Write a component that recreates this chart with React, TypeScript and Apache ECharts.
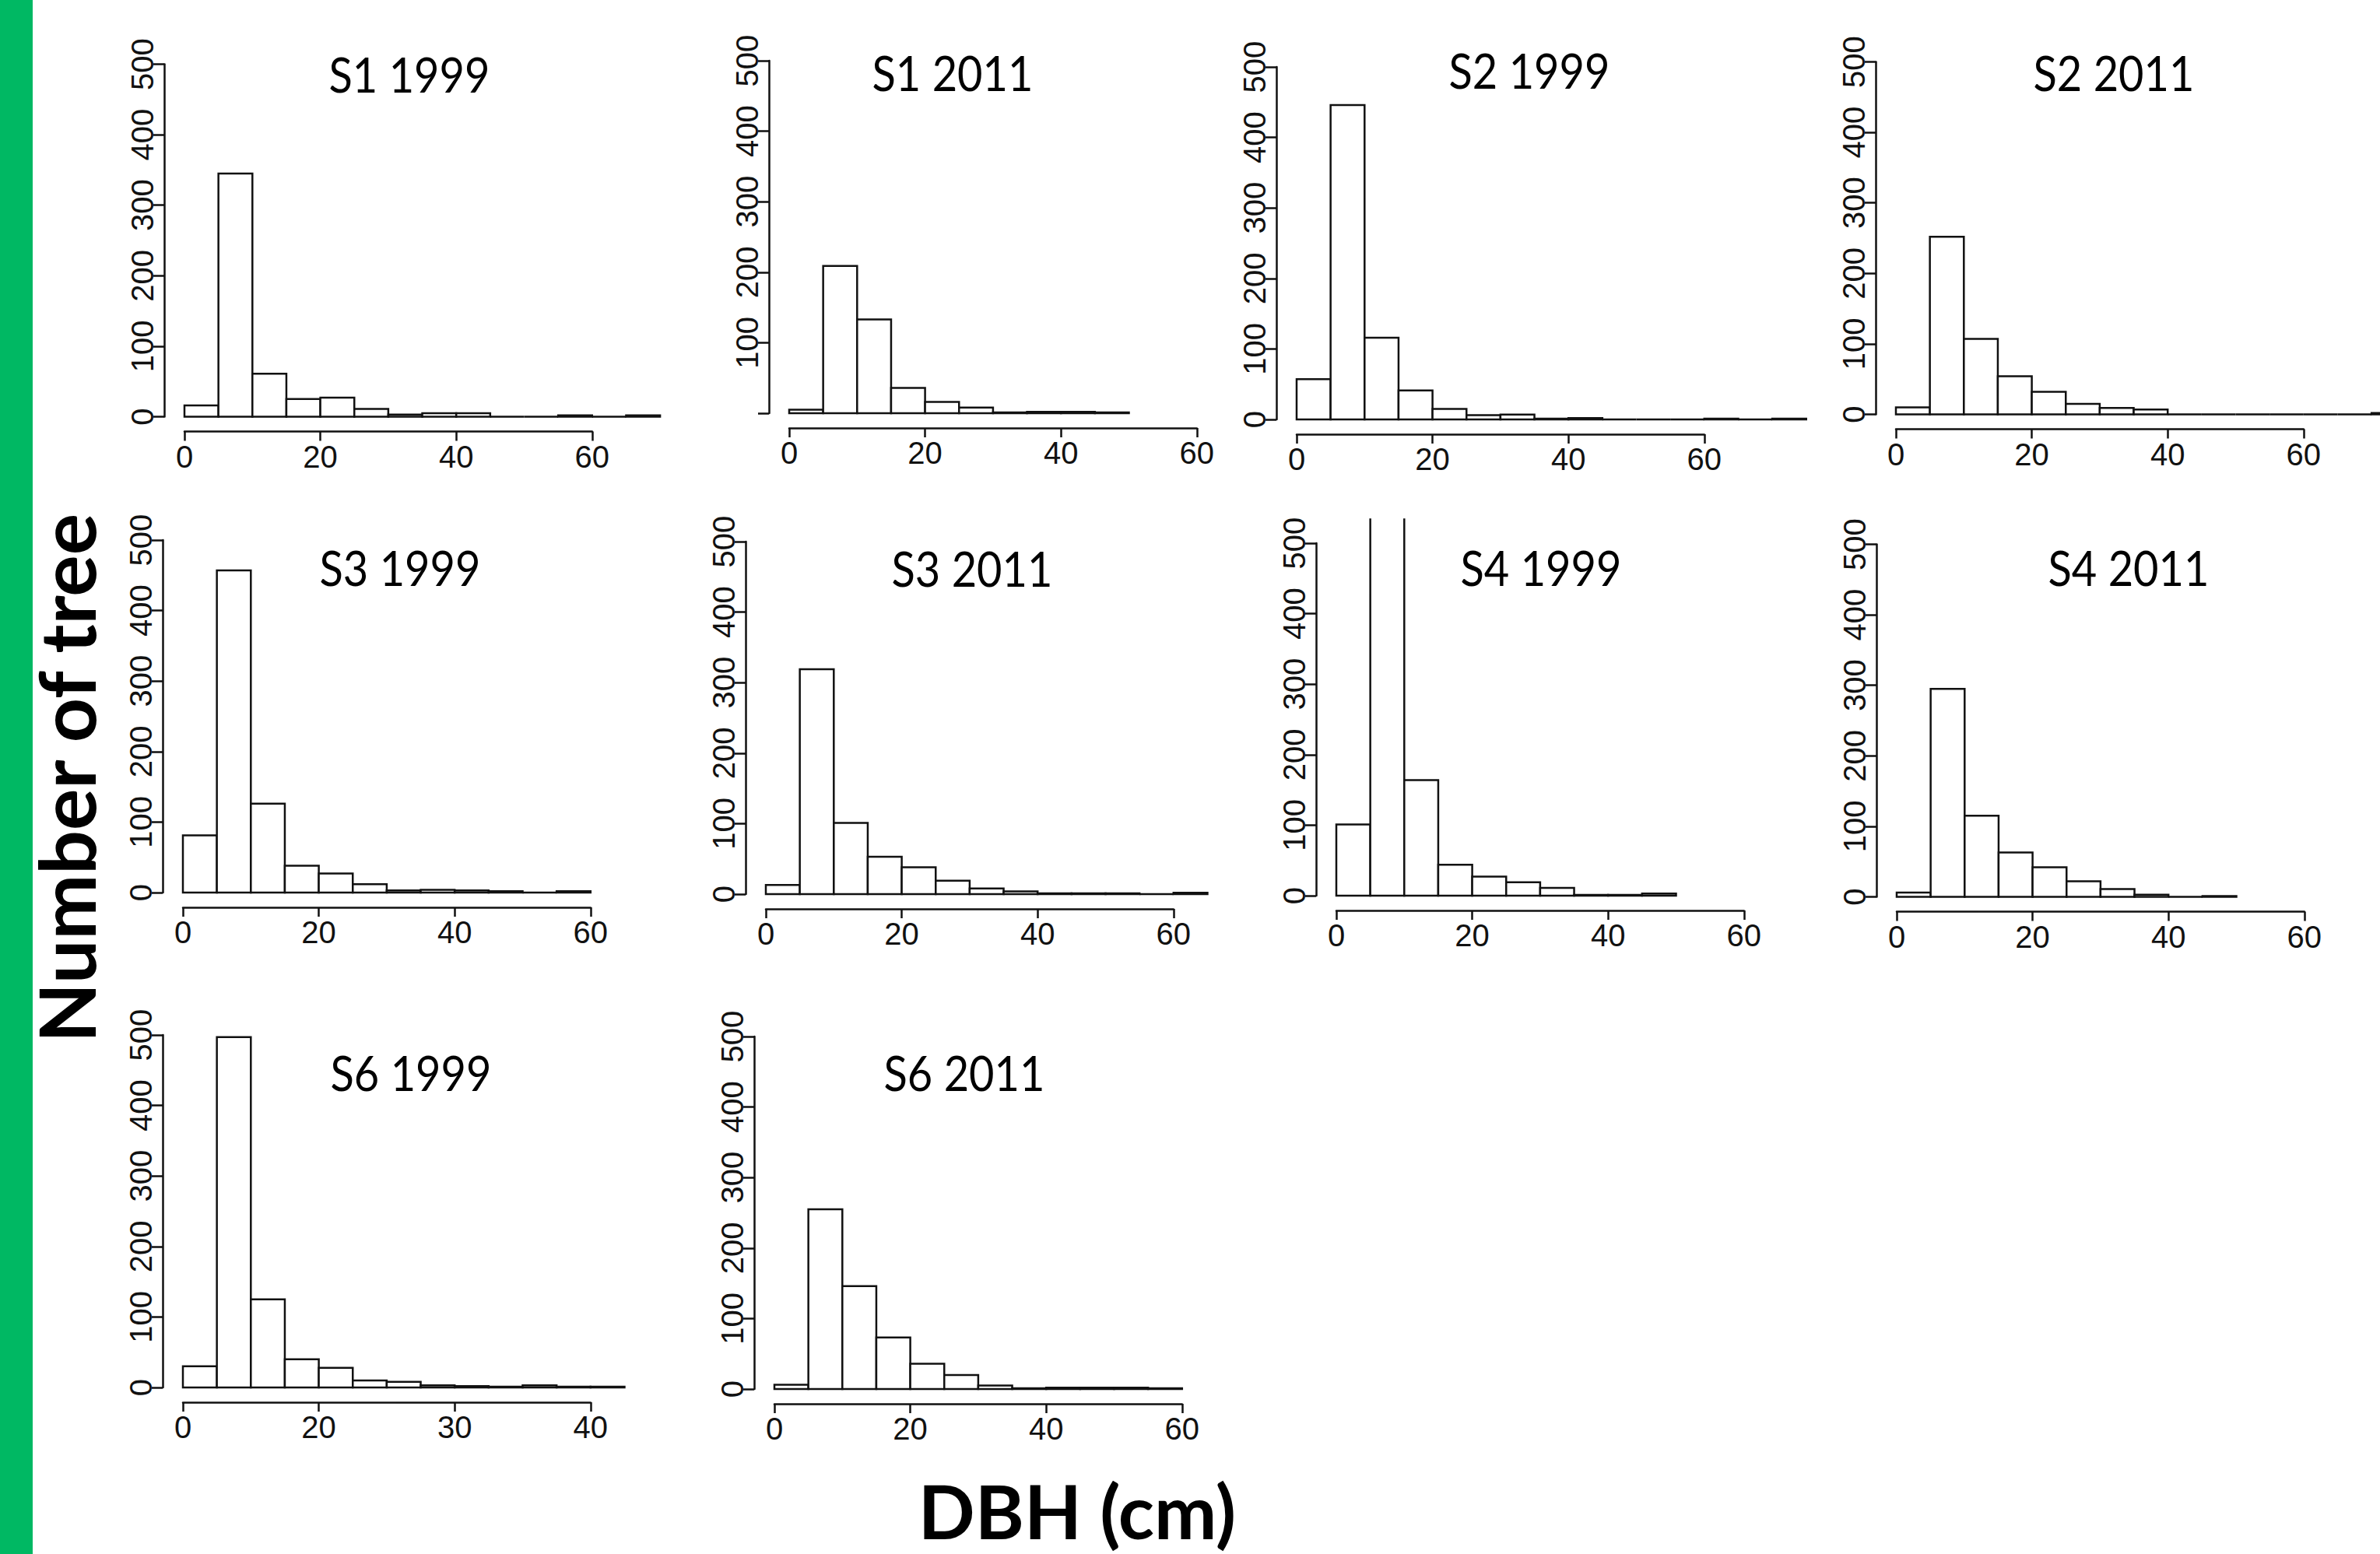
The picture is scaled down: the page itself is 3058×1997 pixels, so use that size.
import React, { useEffect, useRef } from "react";
import * as echarts from "echarts";

const W = 3058;
const H = 1997;

// ---- data (counts per DBH class, bins start at 0 cm) ----
const panelTitles = ["S1 1999", "S1 2011", "S2 1999", "S2 2011", "S3 1999", "S3 2011", "S4 1999", "S4 2011", "S6 1999", "S6 2011"];
const binWidths = [5, 5, 5, 5, 5, 5, 5, 5, 2.5, 5];
const s1_1999 = [16, 345, 61, 25, 27, 11, 3, 5, 5, 0, 0, 2, 0, 2];
const s1_2011 = [5, 209, 133, 36, 16, 8, 1, 2, 2, 1];
const s2_1999 = [57, 446, 116, 41, 15, 6, 7, 1, 2, 0, 0, 0, 1, 0, 1];
const s2_2011 = [10, 252, 107, 54, 32, 15, 9, 7, 0, 0, 0, 0, 0, 0, 2];
const s3_1999 = [81, 457, 126, 38, 27, 12, 3, 4, 3, 2, 0, 2];
const s3_2011 = [13, 319, 101, 53, 38, 19, 8, 4, 1, 1, 1, 0, 2];
const s4_1999 = [101, 640, 164, 44, 27, 19, 11, 1, 1, 3];
const s4_2011 = [6, 295, 115, 63, 42, 22, 11, 3, 0, 1];
const s6_1999 = [30, 497, 125, 40, 28, 10, 8, 3, 2, 1, 3, 1, 1];
const s6_2011 = [6, 255, 146, 73, 36, 20, 5, 1, 2, 2, 2, 1];
const panelCounts = [s1_1999, s1_2011, s2_1999, s2_2011, s3_1999, s3_2011, s4_1999, s4_2011, s6_1999, s6_2011];

// tick values and their printed labels
const xTicksStd = [0, 20, 40, 60];
const xTickLabelsStd = ["0", "20", "40", "60"];
const xTicksS6_1999 = [0, 10, 20, 30];
const xTickLabelsS6_1999 = ["0", "20", "30", "40"];
const yTicks = [0, 100, 200, 300, 400, 500];
const yTickLabels = ["0", "100", "200", "300", "400", "500"];
const yTickLabelsNoZero = ["", "100", "200", "300", "400", "500"];

const yAxisLabel = "Number of tree";
const xAxisLabel = "DBH (cm)";

// ---- layout (pixels) ----
const PPU = 8.73; // px per cm for 5-cm bins
const YPPU = 0.906; // px per tree
const layout = [
  { x0: 237, y0: 535.5, tx: 526, ty: 95 },
  { x0: 1014, y0: 531, tx: 1224, ty: 93 },
  { x0: 1666, y0: 539, tx: 1965, ty: 90 },
  { x0: 2436, y0: 532.5, tx: 2716, ty: 93 },
  { x0: 235, y0: 1147, tx: 514, ty: 729 },
  { x0: 984, y0: 1149, tx: 1249, ty: 730 },
  { x0: 1717, y0: 1151, tx: 1980, ty: 729 },
  { x0: 2437, y0: 1152.5, tx: 2735, ty: 729 },
  { x0: 235, y0: 1783, tx: 528, ty: 1378 },
  { x0: 995, y0: 1785, tx: 1239, ty: 1378 },
];

const INK = "#111";
const LABEL_FONT = "Liberation Sans";

function buildOption() {
  const grid: any[] = [];
  const xAxis: any[] = [];
  const yAxis: any[] = [];
  const series: any[] = [];
  const graphic: any[] = [];

  graphic.push({
    type: "rect",
    shape: { x: 0, y: 0, width: 42, height: H },
    style: { fill: "#00b863" },
    silent: true,
  });

  panelTitles.forEach((title, i) => {
    const L = layout[i];
    const bw = binWidths[i];
    const k = bw / 5;
    const ppu = PPU / k;
    const isS6_1999 = i === 8;
    const ticks = isS6_1999 ? xTicksS6_1999 : xTicksStd;
    const tickLabels = isS6_1999 ? xTickLabelsS6_1999 : xTickLabelsStd;
    const yLabels = i === 1 ? yTickLabelsNoZero : yTickLabels;
    const xMaxTick = ticks[ticks.length - 1];
    const xInterval = ticks[1] - ticks[0];

    // grid A: plotting region (R style extended range)
    grid.push({
      left: L.x0 - 3 * PPU,
      top: L.y0 - 535 * YPPU,
      width: 81 * PPU,
      height: 555 * YPPU,
      containLabel: false,
      outerBoundsMode: "none",
    });
    xAxis.push({ type: "value", gridIndex: 2 * i, min: -3 * k, max: 78 * k, show: false });
    yAxis.push({ type: "value", gridIndex: 2 * i, min: -20, max: 535, show: false });

    // grid B: axes drawn only over the tick span
    grid.push({
      left: L.x0,
      top: L.y0 - 500 * YPPU,
      width: xMaxTick * ppu,
      height: 500 * YPPU,
      containLabel: false,
      outerBoundsMode: "none",
    });
    xAxis.push({
      type: "value",
      gridIndex: 2 * i + 1,
      min: 0,
      max: xMaxTick,
      interval: xInterval,
      offset: 19,
      splitLine: { show: false },
      axisLine: { show: true, onZero: false, lineStyle: { color: INK, width: 2.5 } },
      axisTick: { show: true, length: 12, lineStyle: { color: INK, width: 2.5 } },
      axisLabel: {
        show: true,
        showMinLabel: true,
        showMaxLabel: true,
        margin: 12,
        color: INK,
        fontFamily: LABEL_FONT,
        fontSize: 40,
        formatter: (v: number) => {
          const idx = ticks.indexOf(v);
          return idx >= 0 ? tickLabels[idx] : "";
        },
      },
    });
    yAxis.push({
      type: "value",
      gridIndex: 2 * i + 1,
      min: 0,
      max: 500,
      interval: 100,
      offset: 26,
      splitLine: { show: false },
      axisLine: { show: true, onZero: false, lineStyle: { color: INK, width: 2.5 } },
      axisTick: { show: true, length: 14, lineStyle: { color: INK, width: 2.5 } },
      axisLabel: {
        show: true,
        showMinLabel: true,
        showMaxLabel: true,
        rotate: 90,
        margin: 8,
        color: INK,
        fontFamily: LABEL_FONT,
        fontSize: 40,
        formatter: (v: number) => {
          const idx = yTicks.indexOf(v);
          return idx >= 0 ? yLabels[idx] : "";
        },
      },
    });

    const data = panelCounts[i].map((c, j) => [j * bw, (j + 1) * bw, c]);
    series.push({
      type: "custom",
      name: title,
      xAxisIndex: 2 * i,
      yAxisIndex: 2 * i,
      clip: true,
      silent: true,
      data,
      renderItem: (_params: any, api: any) => {
        const a = api.coord([api.value(0), 0]);
        const b = api.coord([api.value(1), api.value(2)]);
        return {
          type: "polygon",
          shape: {
            points: [
              [a[0], a[1]],
              [a[0], b[1]],
              [b[0], b[1]],
              [b[0], a[1]],
            ],
          },
          style: { fill: "#ffffff", stroke: INK, lineWidth: 2.5 },
        };
      },
    });

    graphic.push({
      type: "text",
      x: L.tx,
      y: L.ty,
      scaleY: 1.1,
      silent: true,
      style: {
        text: title,
        fontFamily: "Lato",
        fontSize: 56,
        fill: "#000",
        align: "center",
        verticalAlign: "middle",
      },
    });
  });

  graphic.push({
    type: "text",
    x: 84,
    y: 1000,
    rotation: Math.PI / 2,
    silent: true,
    style: {
      text: yAxisLabel,
      fontFamily: "Lato",
      fontWeight: "bold",
      fontSize: 100,
      lineHeight: 100,
      fill: "#000",
      align: "center",
      verticalAlign: "middle",
    },
  });
  graphic.push({
    type: "text",
    x: 1384,
    y: 1940,
    silent: true,
    style: {
      text: xAxisLabel,
      fontFamily: "Lato",
      fontWeight: "bold",
      fontSize: 96,
      lineHeight: 96,
      fill: "#000",
      align: "center",
      verticalAlign: "middle",
    },
  });

  return {
    animation: false,
    backgroundColor: "#ffffff",
    grid,
    xAxis,
    yAxis,
    series,
    graphic,
  };
}

export default function App() {
  const ref = useRef<HTMLDivElement>(null);
  useEffect(() => {
    if (!ref.current) return;
    const chart = echarts.init(ref.current, undefined, { renderer: "svg", width: W, height: H });
    chart.setOption(buildOption() as any);
    return () => chart.dispose();
  }, []);
  return (
    <div
      ref={ref}
      style={{ position: "fixed", left: 0, top: 0, width: W, height: H, background: "#fff" }}
    />
  );
}
